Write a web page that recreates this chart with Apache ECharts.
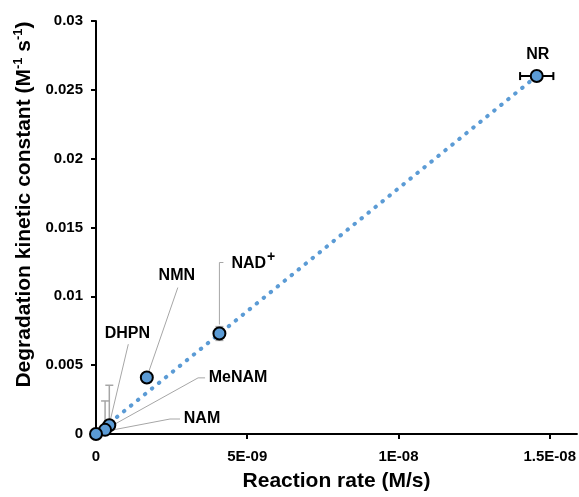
<!DOCTYPE html>
<html>
<head>
<meta charset="utf-8">
<script src="https://cdn.jsdelivr.net/npm/echarts@6/dist/echarts.min.js"></script>
<style>
  html, body { margin: 0; padding: 0; background: #fff; }
  #chart { width: 579px; height: 497px; }
</style>
</head>
<body>
<div id="chart"></div>
<script>
// 数据
var names = ['NR', 'NAD+', 'NMN', 'DHPN', 'MeNAM', 'NAM'];
var rates = [1.457e-8, 4.08e-9, 1.68e-9, 4.4e-10, 3.0e-10, 0];       // M/s
var constants = [0.026, 0.0073, 0.0041, 0.00064, 0.0003, 0];        // M-1 s-1
var rateErr = [5.5e-10, 0, 0, 0, 0, 0];
var constErrUp = [0, 0.0005, 0, 0.0029, 0.0021, 0];
var constErrDown = [0, 0.0005, 0, 0, 0, 0];
var trendX = [0, 1.457e-8];
var trendY = [0, 0.026];
var xTickLabels = ['0', '5E-09', '1E-08', '1.5E-08'];

(function () {
  var myChart = echarts.init(document.getElementById('chart'));
  var font = 'Liberation Sans, Arial, sans-serif';
  var blue = '#5B9BD5';
  var grey = '#A6A6A6';

  // 标签位置（相对点的像素偏移）和引线
  var annot = {
    'NR': { pos: [1, -21], align: 'center' },
    'NAD+': { pos: [12, -70], align: 'left', leader: [[0, -9], [0, -71], [4, -71]] },
    'NMN': { pos: [30, -102], align: 'center', leader: [[31, -90], [2, -6]] },
    'DHPN': { pos: [18, -92], align: 'center', leader: [[19, -81], [1, -5]] },
    'MeNAM': { pos: [133, -52], align: 'center', leader: [[100, -52], [93, -52], [3, -2]] },
    'NAM': { pos: [106, -15], align: 'center', leader: [[84, -15], [74, -15], [6, -2]] }
  };

  var points = rates.map(function (r, i) { return [r, constants[i], i]; });

  var option = {
    animation: false,
    grid: { left: 96, right: 0, top: 21, bottom: 56, containLabel: false },
    xAxis: {
      type: 'value',
      min: 0,
      max: 1.59e-8,
      interval: 5e-9,
      name: 'Reaction rate (M/s)',
      nameLocation: 'middle',
      nameGap: 37,
      nameTextStyle: { fontFamily: font, fontSize: 21, fontWeight: 'bold', color: '#000' },
      axisLine: { lineStyle: { color: '#000', width: 2 } },
      axisTick: { length: 5, lineStyle: { color: '#000', width: 2 } },
      splitLine: { show: false },
      axisLabel: {
        showMaxLabel: false,
        margin: 15,
        fontFamily: font, fontSize: 15, fontWeight: 'bold', color: '#000',
        formatter: function (v) {
          var k = v / 5e-9;
          if (Math.abs(k - Math.round(k)) > 1e-6) return '';
          return xTickLabels[Math.round(k)] || '';
        }
      }
    },
    yAxis: {
      type: 'value',
      min: 0,
      max: 0.03,
      interval: 0.005,
      name: 'Degradation kinetic constant (M{s|-1} s{s|-1})',
      nameLocation: 'middle',
      nameGap: 54,
      nameTextStyle: {
        fontFamily: font, fontSize: 21, fontWeight: 'bold', color: '#000',
        padding: [0, 0, 0, 46],
        rich: {
          s: { fontFamily: font, fontSize: 13, fontWeight: 'bold', color: '#000', padding: [0, 0, 12, 0] }
        }
      },
      axisLine: { show: true, lineStyle: { color: '#000', width: 2 } },
      axisTick: { show: true, length: 5, lineStyle: { color: '#000', width: 2 } },
      splitLine: { show: false },
      axisLabel: { margin: 13, fontFamily: font, fontSize: 15, fontWeight: 'bold', color: '#000' }
    },
    series: [
      {
        // 趋势线（点线）
        name: 'trend',
        type: 'line',
        z: 1,
        data: trendX.map(function (x, i) { return [x, trendY[i]]; }),
        symbol: 'none',
        lineStyle: { color: blue, width: 4, type: [0.5, 8.5], cap: 'round' }
      },
      {
        // 误差线
        name: 'error',
        type: 'custom',
        z: 2,
        data: points,
        renderItem: function (params, api) {
          var i = api.value(2);
          var x = rates[i], y = constants[i];
          var children = [];
          if (rateErr[i] > 0) {
            var a = api.coord([x - rateErr[i], y]);
            var b = api.coord([x + rateErr[i], y]);
            var st = { stroke: '#000', lineWidth: 2 };
            children.push({ type: 'line', shape: { x1: a[0], y1: a[1], x2: b[0], y2: b[1] }, style: st });
            children.push({ type: 'line', shape: { x1: a[0], y1: a[1] - 4, x2: a[0], y2: a[1] + 4 }, style: st });
            children.push({ type: 'line', shape: { x1: b[0], y1: b[1] - 4, x2: b[0], y2: b[1] + 4 }, style: st });
          }
          if (constErrUp[i] > 0 || constErrDown[i] > 0) {
            var top = api.coord([x, y + constErrUp[i]]);
            var bot = api.coord([x, y - constErrDown[i]]);
            var sg = { stroke: grey, lineWidth: 1.5 };
            children.push({ type: 'line', shape: { x1: top[0], y1: top[1], x2: bot[0], y2: bot[1] }, style: sg });
            children.push({ type: 'line', shape: { x1: top[0] - 4, y1: top[1], x2: top[0] + 4, y2: top[1] }, style: sg });
            if (constErrDown[i] > 0) {
              children.push({ type: 'line', shape: { x1: bot[0] - 4, y1: bot[1], x2: bot[0] + 4, y2: bot[1] }, style: sg });
            }
          }
          return { type: 'group', children: children };
        }
      },
      {
        // 标签和引线
        name: 'labels',
        type: 'custom',
        z: 2,
        clip: false,
        data: points,
        renderItem: function (params, api) {
          var i = api.value(2);
          var p = api.coord([api.value(0), api.value(1)]);
          var a = annot[names[i]];
          var children = [];
          if (a.leader) {
            children.push({
              type: 'polyline',
              shape: { points: a.leader.map(function (d) { return [p[0] + d[0], p[1] + d[1]]; }) },
              style: { stroke: grey, lineWidth: 1, fill: null }
            });
          }
          var txt = names[i] === 'NAD+' ? '{m|NAD}{s|+}' : names[i];
          children.push({
            type: 'text',
            x: p[0] + a.pos[0],
            y: p[1] + a.pos[1],
            style: {
              text: txt,
              fill: '#000',
              font: 'bold 16px ' + font,
              align: a.align,
              verticalAlign: 'middle',
              rich: {
                m: { fontFamily: font, fontSize: 16, fontWeight: 'bold', fill: '#000' },
                s: { fontFamily: font, fontSize: 14, fontWeight: 'bold', fill: '#000', padding: [0, 0, 12, 1] }
              }
            }
          });
          return { type: 'group', children: children };
        }
      },
      {
        // 散点
        name: 'points',
        type: 'scatter',
        z: 3,
        data: points,
        symbol: 'circle',
        symbolSize: 12,
        itemStyle: { color: blue, borderColor: '#000', borderWidth: 2, opacity: 1 }
      }
    ]
  };
  myChart.setOption(option);
  window.addEventListener('resize', function () {
    myChart.resize();
  });
})();
</script>
</body>
</html>
